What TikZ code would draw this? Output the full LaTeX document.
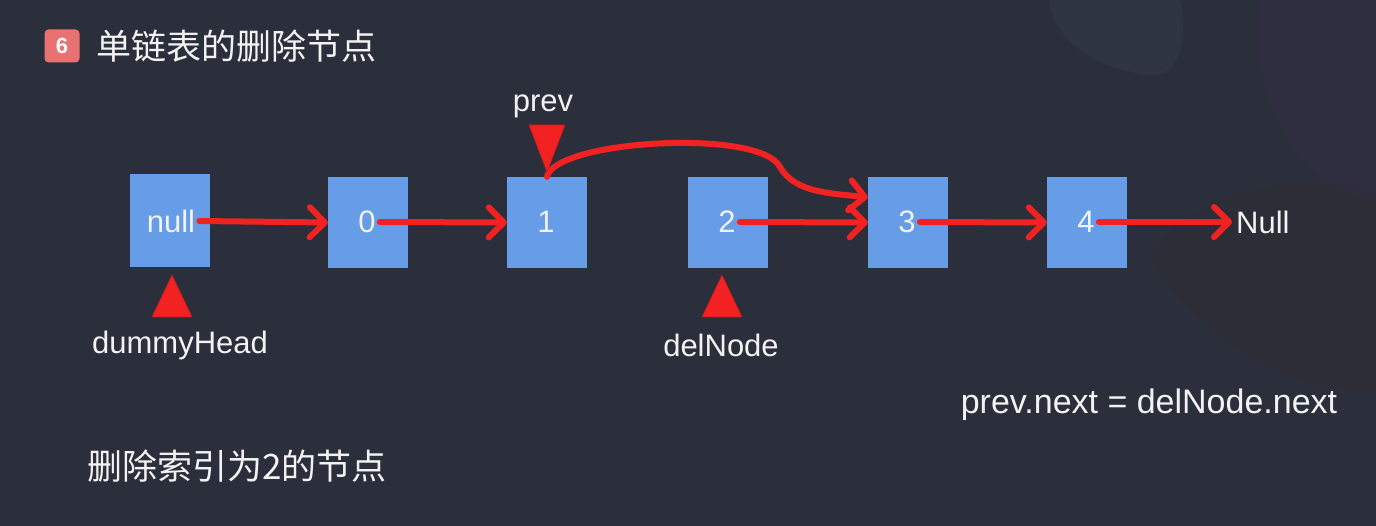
\documentclass[tikz,border=0pt]{standalone}
\usepackage{fontspec}
\setmainfont{Liberation Sans}
\newfontfamily\cjk{Noto Sans CJK SC}
\usetikzlibrary{arrows.meta,calc}
\definecolor{bg}{HTML}{2B2E3B}
\definecolor{boxblue}{HTML}{669DE6}
\definecolor{arrred}{HTML}{F22222}
\definecolor{txt}{HTML}{F2F2F2}
\definecolor{badge}{HTML}{E87272}
\definecolor{blobA}{RGB}{52,62,76}
\definecolor{blobB}{RGB}{52,46,72}
\definecolor{blobC}{RGB}{52,45,48}
\tikzset{
  listbox/.style={fill=boxblue, draw=none, minimum width=80pt, minimum height=91pt, inner sep=0pt},
  val/.style={text=txt, font=\fontsize{31}{36}\selectfont, inner sep=4pt},
  lbl/.style={text=txt, font=\fontsize{31}{36}\selectfont, inner sep=0pt},
  cjklbl/.style={text=txt, font=\cjk\fontsize{35}{40}\selectfont, inner sep=0pt, anchor=west},
  link/.style={draw=arrred, line width=6pt, line cap=round,
     -{Straight Barb[round,length=15pt,width=30pt]}},
  pointer/.style={fill=arrred, draw=arrred!80!black, line width=0.6pt},
}
\begin{document}
\begin{tikzpicture}[x=1pt,y=-1pt]
\useasboundingbox (0,0) rectangle (1376,526);
\fill[bg] (0,0) rectangle (1376,526);
% faint background blobs
\fill[blobA, opacity=0.45]
  (1050,0) .. controls (1050,40) and (1100,70) .. (1150,75)
  .. controls (1180,78) and (1188,40) .. (1180,0) -- cycle;
\fill[blobB, opacity=0.4]
  (1262,0) .. controls (1250,60) and (1270,150) .. (1340,190)
  -- (1376,200) -- (1376,0) -- cycle;
\fill[blobC, opacity=0.3]
  (1150,260) .. controls (1180,190) and (1300,170) .. (1376,190)
  -- (1376,390) .. controls (1300,400) and (1200,340) .. cycle;

% badge and title
\node[fill=badge, rounded corners=4pt, minimum width=35pt, minimum height=33pt,
      inner sep=0pt, text=white, font=\bfseries\fontsize{22}{26}\selectfont] (badge) at (62,46) {6};
\node[cjklbl] (title) at (96,46) {单链表的删除节点};

% list boxes
\node[listbox, minimum height=93pt] (b0) at (170,220.5) {};
\node[listbox] (b1) at (368,222.5) {};
\node[listbox] (b2) at (547,222.5) {};
\node[listbox] (b3) at (728,222.5) {};
\node[listbox] (b4) at (908,222.5) {};
\node[listbox] (b5) at (1087,222.5) {};

\node[val] (t0) at (171,221) {null};
\node[val] (t1) at (367,222) {0};
\node[val] (t2) at (546,222) {1};
\node[val] (t3) at (727,222) {2};
\node[val] (t4) at (907,222) {3};
\node[val] (t5) at (1086,222) {4};
\node[lbl, anchor=west] (nul) at (1236,222) {Null};

% links
\draw[link] (t0.east) -- (b1.west);
\draw[link] (t1.east) -- (b2.west);
\draw[link] (t3.east) -- (b4.west);
\draw[link] (t4.east) -- (b5.west);
\draw[link] (t5.east) -- ([xshift=-4pt]nul.west);
\draw[link] (b2.north) .. controls (555,140) and (760,128) .. (780,167)
   .. controls (795,193) and (830,193) .. ([yshift=25pt]b4.west);

% pointers
\coordinate (pPrev) at (547,172);
\coordinate (pDummy) at (172,275);
\coordinate (pDel) at (722,275);
\fill[pointer] (pPrev) -- ++(18,-47) -- ++(-36,0) -- cycle;
\fill[pointer] (pDummy) -- ++(20,42) -- ++(-40,0) -- cycle;
\fill[pointer] (pDel) -- ++(20,42) -- ++(-40,0) -- cycle;

\node[lbl] (prev) at (543,106) {prev};
\node[lbl] (dummy) at (180,345) {dummyHead};
\node[lbl] (del) at (721,345) {delNode};
\node[lbl, font=\fontsize{34}{40}\selectfont] (code) at (1149,405) {prev.next = delNode.next};
\node[cjklbl] (note) at (87,466) {删除索引为2的节点};
\end{tikzpicture}
\end{document}
